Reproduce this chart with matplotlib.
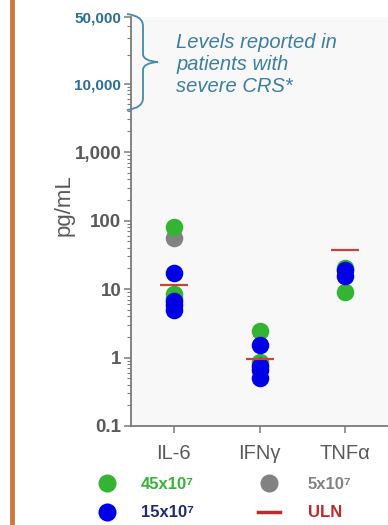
import numpy as np
import matplotlib
matplotlib.use('Agg')
import matplotlib.pyplot as plt
from matplotlib.path import Path
from matplotlib.patches import PathPatch
from matplotlib.lines import Line2D
from matplotlib.ticker import FixedLocator, FixedFormatter

plt.rcParams['font.family'] = ['Liberation Sans', 'DejaVu Sans']

# === 데이터 ===
cytokines = ['IL-6', 'IFNγ', 'TNFα']

green_cat = ['IL-6', 'IL-6', 'IL-6', 'IFNγ', 'IFNγ', 'TNFα', 'TNFα']
green_val = [80, 8.5, 7.5, 2.4, 0.85, 9.0, 20]

grey_cat = ['IL-6']
grey_val = [56]

blue_cat = ['IL-6', 'IL-6', 'IL-6', 'IL-6', 'IFNγ', 'IFNγ', 'IFNγ', 'IFNγ', 'TNFα', 'TNFα']
blue_val = [17, 6.6, 5.8, 4.9, 1.5, 0.75, 0.65, 0.5, 19, 15.5]

uln_val = [11.5, 0.95, 37]

ytick_vals = [0.1, 1, 10, 100, 1000, 10000, 50000]
ytick_labels = ['0.1', '1', '10', '100', '1,000', '10,000', '50,000']

legend_labels = ['45x10⁷', '15x10⁷', '5x10⁷', 'ULN']

GREEN = '#33b533'
BLUE = '#0000e6'
GREY = '#828282'
RED = '#c4453c'
TEAL = '#2f6f93'
TXT = '#5a5a5a'

W, H = 388, 525


# 10,000 위쪽은 압축된 스케일
K = 1.39
def fwd(v):
    l = np.log10(np.clip(v, 1e-12, None))
    return np.where(l <= 4, l, 4 + (l - 4) * K)

def inv(t):
    t = np.asarray(t, dtype=float)
    return np.where(t <= 4, 10 ** t, 10 ** (4 + (t - 4) / K))


def px(x, y):
    return x / W, 1 - y / H


fig = plt.figure(figsize=(W / 100, H / 100), dpi=100)
fig.patch.set_facecolor('white')

ax = fig.add_axes([131 / W, 1 - 426 / H, (W - 131) / W, (426 - 17) / H])
ax.set_facecolor('#f8f8f8')
ax.set_yscale('function', functions=(fwd, inv))
ax.set_ylim(0.1, 50000)
ax.set_xlim(-0.5, 2.5)

idx = {c: i for i, c in enumerate(cytokines)}
ax.scatter([idx[c] for c in grey_cat], grey_val, s=160, color=GREY, zorder=3, linewidths=0)
ax.scatter([idx[c] for c in green_cat], green_val, s=160, color=GREEN, zorder=4, linewidths=0)
ax.scatter([idx[c] for c in blue_cat], blue_val, s=160, color=BLUE, zorder=5, linewidths=0)
ax.plot(range(len(cytokines)), uln_val, ls='none', marker='_', markersize=20,
        markeredgewidth=1.6, color=RED, zorder=6)

for s in ['top', 'right']:
    ax.spines[s].set_visible(False)
for s in ['left', 'bottom']:
    ax.spines[s].set_color('#7a7a7a')
    ax.spines[s].set_linewidth(1.3)

ax.yaxis.set_major_locator(FixedLocator(ytick_vals))
ax.yaxis.set_major_formatter(FixedFormatter(ytick_labels))
minors = [m * 10.0 ** e for e in range(-1, 5) for m in range(2, 10) if m * 10.0 ** e < 50000]
ax.yaxis.set_minor_locator(FixedLocator(minors))
ax.yaxis.set_minor_formatter(FixedFormatter([''] * len(minors)))
ax.tick_params(axis='y', which='major', length=5, width=1.1, color='#7a7a7a',
               labelsize=13.5, labelcolor=TXT, pad=2)
ax.tick_params(axis='y', which='minor', length=3, width=0.8, color='#7a7a7a')
for lab in ax.get_yticklabels():
    lab.set_fontweight('bold')
    if lab.get_text() in ('10,000', '50,000'):
        lab.set_color(TEAL)
        lab.set_fontsize(11)

ax.set_xticks(range(len(cytokines)))
ax.set_xticklabels(cytokines)
ax.tick_params(axis='x', length=5, width=1.1, color='#7a7a7a', labelsize=14.5,
               labelcolor=TXT, pad=8)

ax.set_ylabel('pg/mL', fontsize=16, color=TXT)
ax.yaxis.set_label_coords(-0.22, 0.54)

# 중괄호
x0, x1, xt = 127, 143, 158
yt, ym, yb = 14, 62, 110
verts = [px(x0, yt), px(x1, yt + 2), px(x1, yt + 12),
         px(x1, ym - 8),
         px(x1, ym - 1), px(xt, ym),
         px(x1, ym + 1), px(x1, ym + 8),
         px(x1, yb - 12),
         px(x1, yb - 2), px(x0, yb)]
codes = [Path.MOVETO, Path.CURVE3, Path.CURVE3,
         Path.LINETO,
         Path.CURVE3, Path.CURVE3,
         Path.CURVE3, Path.CURVE3,
         Path.LINETO,
         Path.CURVE3, Path.CURVE3]
fig.patches.append(PathPatch(Path(verts, codes), transform=fig.transFigure,
                             fill=False, edgecolor='#4a87aa', lw=1.3))

fig.text(*px(176, 64), 'Levels reported in\npatients with\nsevere CRS*',
         fontsize=14.5, style='italic', color='#3c7ea3', va='center', ha='left',
         linespacing=1.2)

# 왼쪽 주황색 선
fig.add_artist(Line2D([12 / W, 12 / W], [0, 1], transform=fig.transFigure,
                      color='#cc7a3c', lw=3.5))

# 범례
h_green = Line2D([], [], ls='none', marker='o', markersize=13, color=GREEN, markeredgewidth=0)
h_blue = Line2D([], [], ls='none', marker='o', markersize=13, color=BLUE, markeredgewidth=0)
h_grey = Line2D([], [], ls='none', marker='o', markersize=13, color=GREY, markeredgewidth=0)
h_uln = Line2D([], [], color='#c02a2a', lw=2.5)

prop = {'size': 12, 'weight': 'bold'}
leg1 = fig.legend([h_green, h_blue], legend_labels[:2], loc='upper left',
                  bbox_to_anchor=px(96, 477), frameon=False, prop=prop,
                  handlelength=1.3, handletextpad=1.4, labelspacing=0.8, borderpad=0,
                  borderaxespad=0)
for t, c in zip(leg1.get_texts(), [GREEN, '#1c2a78']):
    t.set_color(c)
leg2 = fig.legend([h_grey, h_uln], legend_labels[2:], loc='upper left',
                  bbox_to_anchor=px(258, 477), frameon=False, prop=prop,
                  handlelength=1.3, handletextpad=1.7, labelspacing=0.8, borderpad=0,
                  borderaxespad=0)
for t, c in zip(leg2.get_texts(), [GREY, '#c02a2a']):
    t.set_color(c)

fig.savefig('out.png', dpi=100)
